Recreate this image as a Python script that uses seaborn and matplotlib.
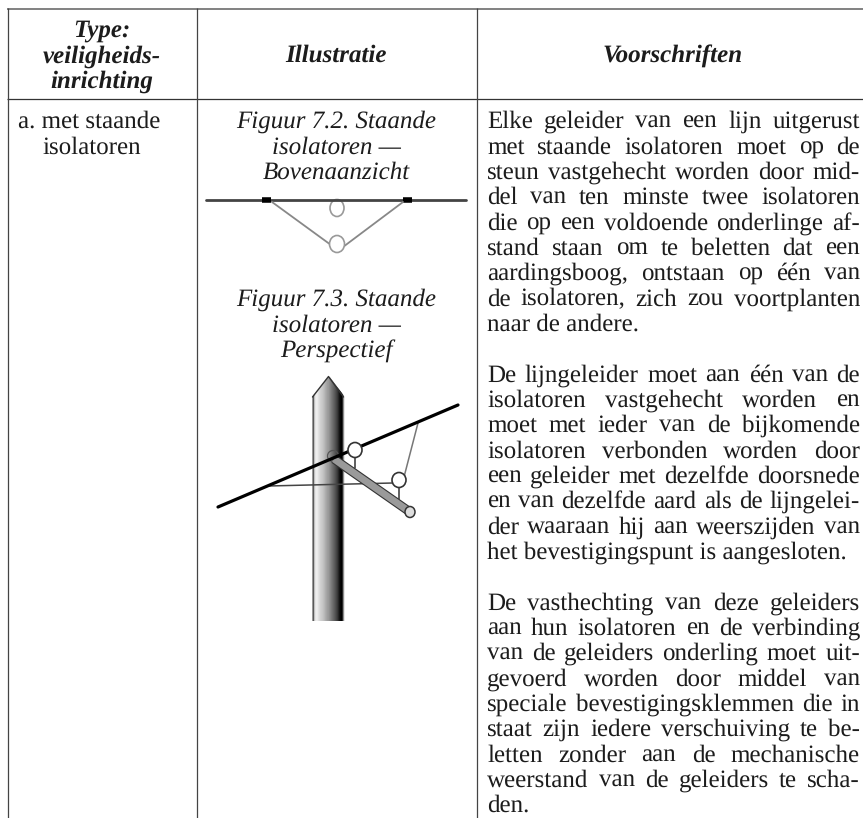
import matplotlib
matplotlib.use("Agg")
import matplotlib.pyplot as plt
from matplotlib.patches import Ellipse, Polygon
import numpy as np
import seaborn as sns

# table text
header_type = ["Type:", "veiligheids-", "inrichting"]
header_ill = "Illustratie"
header_voor = "Voorschriften"
type_lines = ["a. met staande", "isolatoren"]
caption_top = ["Figuur 7.2. Staande", "isolatoren —", "Bovenaanzicht"]
caption_low = ["Figuur 7.3. Staande", "isolatoren —", "Perspectief"]
rules = [
    "Elke geleider van een lijn uitgerust",
    "met staande isolatoren moet op de",
    "steun vastgehecht worden door mid-",
    "del van ten minste twee isolatoren",
    "die op een voldoende onderlinge af-",
    "stand staan om te beletten dat een",
    "aardingsboog, ontstaan op één van",
    "de isolatoren, zich zou voortplanten",
    "naar de andere.",
    "",
    "De lijngeleider moet aan één van de",
    "isolatoren vastgehecht worden en",
    "moet met ieder van de bijkomende",
    "isolatoren verbonden worden door",
    "een geleider met dezelfde doorsnede",
    "en van dezelfde aard als de lijngelei-",
    "der waaraan hij aan weerszijden van",
    "het bevestigingspunt is aangesloten.",
    "",
    "De vasthechting van deze geleiders",
    "aan hun isolatoren en de verbinding",
    "van de geleiders onderling moet uit-",
    "gevoerd worden door middel van",
    "speciale bevestigingsklemmen die in",
    "staat zijn iedere verschuiving te be-",
    "letten zonder aan de mechanische",
    "weerstand van de geleiders te scha-",
    "den.",
]
last_lines = ["naar de andere.", "het bevestigingspunt is aangesloten.", "den."]
# grey levels across the pole, left to right
pole_shades = [.6, .35, .75, .9, .93, .92, .88, .85, .82, .8, .78, .75, .72, .68, .65, .62, .6,
               .56, .52, .48, .44, .4, .36, .32, .27, .22, .15, .08, .02, 0, .15, .55, .9]

sns.set_theme(style="white")
plt.rcParams["font.family"] = ["Liberation Serif", "DejaVu Serif"]
plt.rcParams["text.hinting"] = "no_hinting"
plt.rcParams["text.hinting_factor"] = 1
INK = "#1c1c1c"
FS = 18.1
LEAD = 25.33
BASE = 128

fig = plt.figure(figsize=(8.63, 8.18), dpi=100, facecolor="white")

# pole gradient sits under the main axes
pole_ax = fig.add_axes([312 / 863, 1 - 621 / 818, 33 / 863, 244 / 818], zorder=1)
sns.heatmap(np.array([pole_shades]), ax=pole_ax, cmap="gray", vmin=0, vmax=1,
            cbar=False, xticklabels=False, yticklabels=False)
pole_ax.axis("off")

# main axes in image pixels
ax = fig.add_axes([0, 0, 1, 1], zorder=2)
ax.set_xlim(0, 863)
ax.set_ylim(818, 0)
ax.axis("off")
ax.patch.set_alpha(0)

pole_outline = [(312, 621), (312, 397), (328.5, 376), (345, 397), (345, 621)]
clip = Polygon(pole_outline, closed=True, transform=ax.transData)
pole_ax.collections[0].set_clip_path(clip)
ax.plot([312.5, 312.5, 328.5, 343.5, 343.5], [397, 397, 376.5, 397, 397], color="#333333", lw=1.0)

# table rules
ax.hlines(8.7, 7, 863, color="#777777", lw=1.3)
ax.hlines(99.3, 7, 863, color="#333333", lw=0.9)
ax.vlines([7.5, 196.5, 476.5], 8, 818, color="#444444", lw=0.9)

# header
for i, s in enumerate(header_type):
    ax.text(102, 37 + i * LEAD, s, ha="center", va="baseline", fontsize=FS, style="italic", weight="bold", color=INK)
ax.text(336, 62, header_ill, ha="center", va="baseline", fontsize=FS, style="italic", weight="bold", color=INK)
ax.text(673, 62, header_voor, ha="center", va="baseline", fontsize=FS, style="italic", weight="bold", color=INK)

# first column
ax.text(18, BASE, type_lines[0], va="baseline", fontsize=FS, color=INK)
ax.text(42, BASE + LEAD, type_lines[1], va="baseline", fontsize=FS, color=INK)

# captions
for i, s in enumerate(caption_top):
    ax.text(336, BASE + i * LEAD, s, ha="center", va="baseline", fontsize=FS, style="italic", color=INK)
for i, s in enumerate(caption_low):
    ax.text(336, 306 + i * LEAD, s, ha="center", va="baseline", fontsize=FS, style="italic", color=INK)

# top view sketch
ax.plot([206, 466], [200, 200], color="#444444", lw=2.0)
ax.plot([262, 271], [200, 200], color="black", lw=4, solid_capstyle="butt")
ax.plot([403, 412], [200, 200], color="black", lw=4, solid_capstyle="butt")
ax.plot([272, 331], [202, 245], color="#888888", lw=1.3)
ax.plot([343, 403], [247, 202], color="#888888", lw=1.3)
ax.add_patch(Ellipse((337, 208), 14, 17, fc="white", ec="#999999", lw=1.2, zorder=1.5))
ax.add_patch(Ellipse((337, 244), 15, 17, fc="white", ec="#999999", lw=1.2, zorder=3))

# perspective sketch
ax.plot([268, 393], [486, 483], color="#444444", lw=1.1, zorder=3)
ax.plot([418, 404], [423, 477], color="#777777", lw=1.1, zorder=3)
ax.add_patch(Ellipse((333, 456), 11, 11, fc="none", ec="#555555", lw=0.9, zorder=3))
ax.plot([334, 410], [459, 512], color="#333333", lw=6.6, solid_capstyle="butt", zorder=3)
ax.plot([334, 410], [459, 512], color="#9a9a9a", lw=5.0, solid_capstyle="butt", zorder=4)
ax.add_patch(Ellipse((410, 512), 10, 11, fc="#dddddd", ec="#333333", lw=1.1, zorder=5))
ax.plot([355, 355], [458, 468], color="#333333", lw=1.1, zorder=3)
ax.plot([399, 399], [487, 499], color="#333333", lw=1.1, zorder=3)
ax.plot([218, 458], [507, 405], color="black", lw=2.3, zorder=5)
ax.add_patch(Ellipse((355, 450), 14, 15, fc="white", ec="#333333", lw=1.2, zorder=6))
ax.add_patch(Ellipse((399, 480), 14, 15, fc="white", ec="#333333", lw=1.2, zorder=6))

# justified text, one word at a time
renderer = fig.canvas.get_renderer()
LEFT, RIGHT = 487, 860
for i, line in enumerate(rules):
    if not line:
        continue
    y = BASE + i * LEAD
    if line in last_lines:
        ax.text(LEFT, y, line, va="baseline", fontsize=FS, color=INK)
        continue
    words = [ax.text(0, y, w, va="baseline", fontsize=FS, color=INK) for w in line.split()]
    widths = [t.get_window_extent(renderer).width for t in words]
    gap = (RIGHT - LEFT - sum(widths)) / (len(words) - 1)
    x = LEFT
    for t, w in zip(words, widths):
        t.set_x(x)
        x += w + gap

fig.savefig("out.png", dpi=100)
